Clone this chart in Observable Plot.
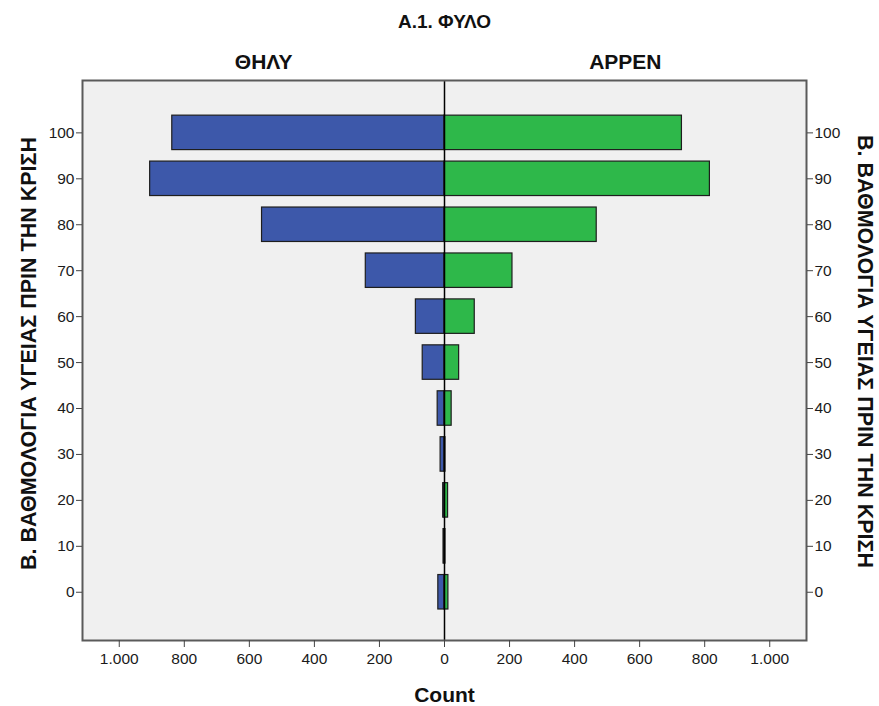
<!DOCTYPE html>
<html>
<head>
<meta charset="utf-8">
<script src="https://cdn.jsdelivr.net/npm/d3@7"></script>
<script src="https://cdn.jsdelivr.net/npm/@observablehq/plot@0.6"></script>
<style>
  html, body { margin: 0; padding: 0; background: #ffffff; }
  #chart { width: 879px; height: 706px; }
</style>
</head>
<body>
<div id="chart"></div>
<script>
// Data
const scores = [0, 10, 20, 30, 40, 50, 60, 70, 80, 90, 100];
const femaleCounts = [19, 3, 4, 12, 21, 67, 88, 242, 561, 905, 837];
const maleCounts = [12, 3, 11, 3, 22, 45, 93, 209, 468, 816, 730];
const xTicks = [-1000, -800, -600, -400, -200, 0, 200, 400, 600, 800, 1000];
const yTicks = [0, 10, 20, 30, 40, 50, 60, 70, 80, 90, 100];
const panelLabels = ["ΘΗΛΥ", "ΑΡΡΕΝ"];
const titleText = "Α.1. ΦΥΛΟ";
const yLabel = "Β. ΒΑΘΜΟΛΟΓΙΑ ΥΓΕΙΑΣ ΠΡΙΝ ΤΗΝ ΚΡΙΣΗ";
const xLabel = "Count";

const rows = [];
scores.forEach((s, i) => {
  rows.push({score: s, sex: "F", value: -femaleCounts[i]});
  rows.push({score: s, sex: "M", value: maleCounts[i]});
});
const panels = [{x: -556, t: panelLabels[0]}, {x: 556, t: panelLabels[1]}];

const loc = d3.formatLocale({decimal: ",", thousands: ".", grouping: [3], currency: ["", ""]});
const fmt = loc.format(",");
const half = 3.75;

const chart = Plot.plot({
  width: 879,
  height: 706,
  marginLeft: 82,
  marginRight: 73,
  marginTop: 80,
  marginBottom: 66,
  style: {fontFamily: "'Liberation Sans', Arial, sans-serif", fontSize: "15px", color: "#1a1a1a", background: "#ffffff"},
  x: {domain: [-1113, 1113]},
  y: {domain: [-10.5, 111.4]},
  color: {domain: ["F", "M"], range: ["#3d58aa", "#2eb84a"]},
  marks: [
    Plot.frame({fill: "#f0f0f0", stroke: null}),
    Plot.rectX(rows, {
      x1: 0, x2: "value",
      y1: d => d.score - half, y2: d => d.score + half,
      fill: "sex", stroke: "#1e1e1e", strokeWidth: 1.2
    }),
    Plot.ruleX([0], {stroke: "#000", strokeWidth: 1.5}),
    Plot.frame({stroke: "#5a5a5a", strokeWidth: 2}),
    Plot.axisX({ticks: xTicks, tickFormat: d => fmt(Math.abs(d)), tickSize: 7, tickPadding: 5, label: null, stroke: "#444", fontSize: 15.5}),
    Plot.axisY({anchor: "left", ticks: yTicks, tickSize: 6, tickPadding: 2, label: null, stroke: "#444", fontSize: 15.5}),
    Plot.axisY({anchor: "right", ticks: yTicks, tickSize: 6, tickPadding: 2, label: null, stroke: "#444", fontSize: 15.5}),
    Plot.text([titleText], {frameAnchor: "top", lineAnchor: "middle", dy: -59, fontWeight: "bold", fontSize: 19, fill: "#111"}),
    Plot.text(panels, {x: "x", text: "t", frameAnchor: "top", lineAnchor: "middle", dy: -18, fontWeight: "bold", fontSize: 21, fill: "#111"}),
    Plot.text([xLabel], {frameAnchor: "bottom", lineAnchor: "middle", dy: 55, fontWeight: "bold", fontSize: 21, fill: "#111"}),
    Plot.text([yLabel], {frameAnchor: "left", textAnchor: "middle", lineAnchor: "middle", rotate: -90, dx: -53, dy: -7, fontWeight: "bold", fontSize: 21.5, fill: "#111"}),
    Plot.text([yLabel], {frameAnchor: "right", textAnchor: "middle", lineAnchor: "middle", rotate: 90, dx: 58, dy: -9, fontWeight: "bold", fontSize: 21.5, fill: "#111"})
  ]
});
document.getElementById("chart").appendChild(chart);
</script>
</body>
</html>
